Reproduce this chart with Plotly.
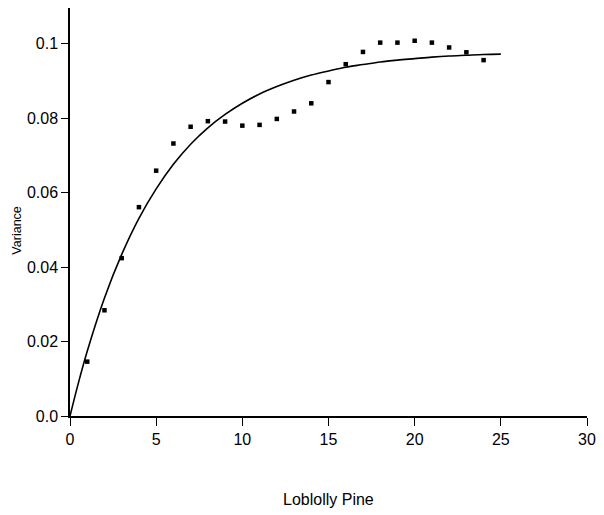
import plotly.graph_objects as go

# observed variances (points)
lag = list(range(1, 25))
variance = [0.0146, 0.0284, 0.0424, 0.0561, 0.0659, 0.0732, 0.0777, 0.0792,
            0.0791, 0.0780, 0.0782, 0.0798, 0.0818, 0.0840, 0.0897, 0.0945,
            0.0978, 0.1003, 0.1003, 0.1008, 0.1003, 0.0990, 0.0977, 0.0956]

# fitted curve
curve_x = [0, 0.5, 1, 2, 3, 4, 5, 6, 7, 8, 9, 10, 11, 12, 13, 14, 15, 16,
           17, 18, 19, 20, 21, 22, 23, 24, 25]
curve_y = [0.0, 0.0091, 0.0174, 0.0317, 0.0434, 0.0531, 0.0610, 0.0676,
           0.0730, 0.0774, 0.0810, 0.0840, 0.0865, 0.0885, 0.0902, 0.0916,
           0.0927, 0.0937, 0.0944, 0.0951, 0.0956, 0.0960, 0.0964, 0.0967,
           0.0969, 0.0971, 0.0972]

x_ticks = [0, 5, 10, 15, 20, 25, 30]
y_ticks = [0.0, 0.02, 0.04, 0.06, 0.08, 0.1]
y_tick_text = ["0.0", "0.02", "0.04", "0.06", "0.08", "0.1"]

fig = go.Figure()
fig.add_trace(go.Scatter(x=curve_x, y=curve_y, mode="lines",
                         line=dict(color="black", width=1.6, shape="spline"),
                         hoverinfo="skip", showlegend=False))
fig.add_trace(go.Scatter(x=lag, y=variance, mode="markers",
                         marker=dict(symbol="square", size=4.5, color="black"),
                         showlegend=False))

font = "Liberation Sans, Arial, Helvetica, sans-serif"
fig.update_layout(
    width=604, height=515,
    margin=dict(l=70, r=10, t=8, b=99, pad=0),
    paper_bgcolor="white", plot_bgcolor="white",
    font=dict(family=font, color="black", size=16),
    xaxis=dict(range=[0, 30], tickvals=x_ticks, ticks="outside", ticklen=8,
               tickwidth=1.2, tickcolor="black", showgrid=False, zeroline=False,
               showline=True, linecolor="black", linewidth=1.5,
               tickfont=dict(size=16, family=font)),
    yaxis=dict(range=[0, 0.1096], tickvals=y_ticks, ticktext=y_tick_text,
               ticks="outside", ticklen=7, tickwidth=1.2, tickcolor="black",
               showgrid=False, zeroline=False, showline=True, linecolor="black",
               linewidth=1.5, tickfont=dict(size=16, family=font)),
    annotations=[
        dict(text="Loblolly Pine", xref="paper", yref="paper", x=0.5, y=-0.205,
             xanchor="center", yanchor="middle", showarrow=False,
             font=dict(size=16, family=font)),
        dict(text="Variance", xref="paper", yref="paper", x=-0.102, y=0.455,
             xanchor="center", yanchor="middle", showarrow=False, textangle=-90,
             font=dict(size=12.5, family=font)),
    ],
)

fig.write_html("out.html")
